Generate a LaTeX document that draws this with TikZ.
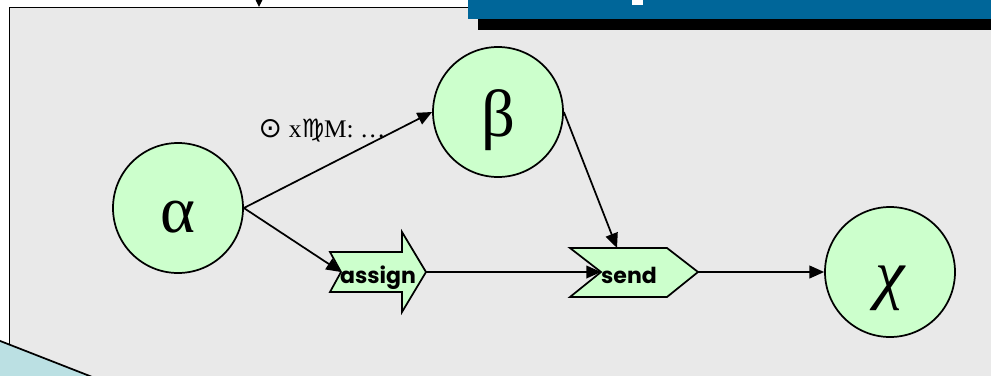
\documentclass[tikz,border=0pt]{standalone}
\usepackage{fontspec}
\setmainfont{Liberation Serif}
\newfontfamily\boxfont{Poppins}
\newfontfamily\symfont{DejaVu Sans}
\usetikzlibrary{arrows.meta}
\usetikzlibrary{calc}
\definecolor{panelgrey}{HTML}{E9E9E9}
\definecolor{stategreen}{HTML}{CCFFCC}
\definecolor{titleblue}{HTML}{006699}
\definecolor{slideblue}{HTML}{BBE0E3}
\def\flowY{272}
\def\labelY{283}

\begin{document}
\begin{tikzpicture}[x=0.75pt,y=-0.75pt,
    arrowtip/.style={
      line width=1.3pt,
      -{Triangle[length=11pt,width=9.5pt]}
    },
    state/.style={
      circle,draw,line width=1.3pt,fill=stategreen,
      minimum size=97.5pt,inner sep=0pt,
      font=\fontsize{50}{50}\selectfont,
      text height=36pt,text depth=0pt
    },
    action/.style={draw,line width=1.3pt,fill=stategreen},
    actionlabel/.style={anchor=base,font=\boxfont\bfseries\fontsize{16.5}{16.5}\selectfont}
  ]
    \useasboundingbox (0,0) rectangle (991,375);

    % panel and slide decoration
    \draw[line width=1.3pt,fill=panelgrey] (9.5,7.5) rectangle (1020,420);
    \fill[slideblue] (-10,337) -- (100,380) -- (-10,380) -- cycle;
    \draw[line width=1.3pt] (-10,337) -- (100,380);
    \fill[black] (478,-20) rectangle (1020,30);
    \fill[titleblue] (468,-20) rectangle (1010,19);
    \fill[white] (632,-5) rectangle (643,5);

    \coordinate (inflow) at (259,-40);
    \coordinate (inflowEnd) at (259,7);
    \draw[line width=1pt,-{Triangle[length=6pt,width=5.5pt]}] (inflow) -- (inflowEnd);

    \node[state] (alpha) at (178,208) {α};
    \node[state] (beta)  at (498,112) {β};
    \node[state] (chi)   at (890,\flowY) {\itshape χ};

    % assign
    \coordinate (assignIn)  at (341,\flowY);
    \coordinate (assignOut) at (426,\flowY);
    \draw[action] (330,252) -- (assignIn) -- (330,292) -- (402,292) -- (402,312)
      -- (assignOut) -- (402,232) -- (402,252) -- cycle;
    \node[actionlabel] (assign) at (378,\labelY) {assign};

    % send
    \coordinate (sendIn)  at (601,\flowY);
    \coordinate (sendOut) at (698,\flowY);
    \coordinate (sendTop) at (617,248);
    \draw[action] (570,248) -- (667,248) -- (sendOut) -- (667,297) -- (570,297)
      -- (sendIn) -- cycle;
    \node[actionlabel] (send) at (629,\labelY) {send};

    \node[anchor=base west,font=\fontsize{19}{19}\selectfont] (guard) at (254,137)
      {{\symfont\fontsize{21}{21}\selectfont ⊙}\hspace{5pt}x{\symfont ♍}M: …};

    \draw[arrowtip] (alpha.east) -- (beta.west);
    \draw[arrowtip] (alpha.east) -- (assignIn);
    \draw[arrowtip] (beta.east) -- (sendTop);
    \draw[arrowtip] (assignOut) -- (sendIn);
    \draw[arrowtip] (sendOut) -- (chi.west);
  \end{tikzpicture}
\end{document}
